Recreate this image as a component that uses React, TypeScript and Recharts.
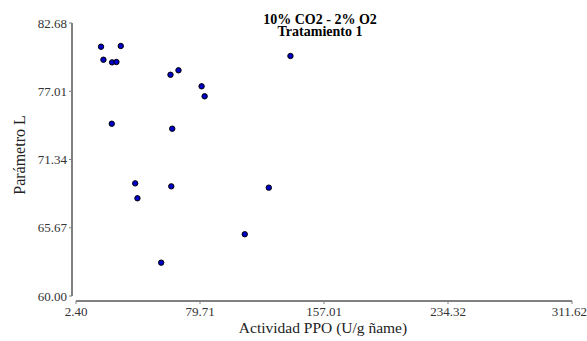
import { ScatterChart, Scatter, XAxis, YAxis, ReferenceLine } from 'recharts';

// values
const actividadPPO = [18.0, 19.5, 24.9, 27.6, 30.3, 24.7, 61.3, 66.3, 80.7, 82.6, 62.4, 136.1, 39.3, 40.7, 61.8, 122.6, 107.6, 55.5];
const parametroL = [80.71, 79.63, 79.41, 79.44, 80.77, 74.31, 78.38, 78.75, 77.42, 76.59, 73.9, 79.94, 69.36, 68.12, 69.11, 69.0, 65.13, 62.77];

const xTicks = [2.4, 79.71, 157.01, 234.32, 311.62];
const yTicks = [60.0, 65.67, 71.34, 77.01, 82.68];

const data = actividadPPO.map((x, i) => ({ x, y: parametroL[i] }));

const serif = '"Liberation Serif", "Times New Roman", serif';
const axisColor = '#808080';

// pixel geometry of the plot, used only to place the two detached axis lines
const xMin = xTicks[0];
const xMax = xTicks[xTicks.length - 1];
const yMin = yTicks[0];
const yMax = yTicks[yTicks.length - 1];
const xPad = 4;
const yPad = 5;
const xPerPx = (xMax - xMin) / 496;
const yPerPx = (yMax - yMin) / 273;

const Dot = (props: any) => (
  <circle cx={props.cx} cy={props.cy} r={2.7} fill="#0000c8" stroke="#000" strokeWidth={1} />
);

export default function App() {
  const tickStyle = { fontSize: 13, fill: '#333', fontFamily: serif };
  const titleStyle = {
    position: 'absolute' as const,
    left: 320,
    transform: 'translateX(-50%)',
    whiteSpace: 'nowrap' as const,
    fontFamily: serif,
    fontWeight: 'bold' as const,
    fontSize: 14,
    lineHeight: '12px',
  };
  return (
    <div style={{ position: 'absolute', left: 0, top: 0, width: 587, height: 341, background: '#fff' }}>
      <ScatterChart width={587} height={341} margin={{ top: 23, right: 15, bottom: 10, left: 12 }}>
        <XAxis
          type="number"
          dataKey="x"
          domain={[xMin, xMax]}
          ticks={xTicks}
          tickFormatter={(v: number) => v.toFixed(2)}
          height={30}
          padding={{ left: xPad, right: 0 }}
          axisLine={false}
          tickLine={{ stroke: axisColor }}
          tickSize={3}
          tickMargin={3}
          tick={tickStyle}
          allowDataOverflow
        />
        <YAxis
          type="number"
          dataKey="y"
          domain={[yMin, yMax]}
          ticks={yTicks}
          tickFormatter={(v: number) => v.toFixed(2)}
          width={60}
          padding={{ top: 0, bottom: yPad }}
          axisLine={false}
          tickLine={{ stroke: axisColor }}
          tickSize={3}
          tickMargin={2}
          tick={tickStyle}
          allowDataOverflow
        />
        <ReferenceLine
          segment={[
            { x: xMin - xPad * xPerPx, y: yMin },
            { x: xMin - xPad * xPerPx, y: yMax },
          ]}
          stroke={axisColor}
          strokeWidth={2}
          ifOverflow="visible"
        />
        <ReferenceLine
          segment={[
            { x: xMin, y: yMin - yPad * yPerPx },
            { x: xMax, y: yMin - yPad * yPerPx },
          ]}
          stroke={axisColor}
          strokeWidth={2}
          ifOverflow="visible"
        />
        <Scatter data={data} shape={Dot} isAnimationActive={false} />
      </ScatterChart>
      <div style={{ ...titleStyle, top: 13.6 }}>10% CO2 - 2% O2</div>
      <div style={{ ...titleStyle, top: 26.1 }}>Tratamiento 1</div>
      <div style={{ position: 'absolute', left: 323, top: 321, transform: 'translateX(-50%)', whiteSpace: 'nowrap', fontFamily: serif, fontSize: 15.5, lineHeight: '14px', color: '#222' }}>
        Actividad PPO (U/g ñame)
      </div>
      <div style={{ position: 'absolute', left: 20, top: 155, transform: 'translate(-50%, -50%) rotate(-90deg)', whiteSpace: 'nowrap', fontFamily: serif, fontSize: 16, lineHeight: 1, color: '#222' }}>
        Parámetro L
      </div>
    </div>
  );
}
